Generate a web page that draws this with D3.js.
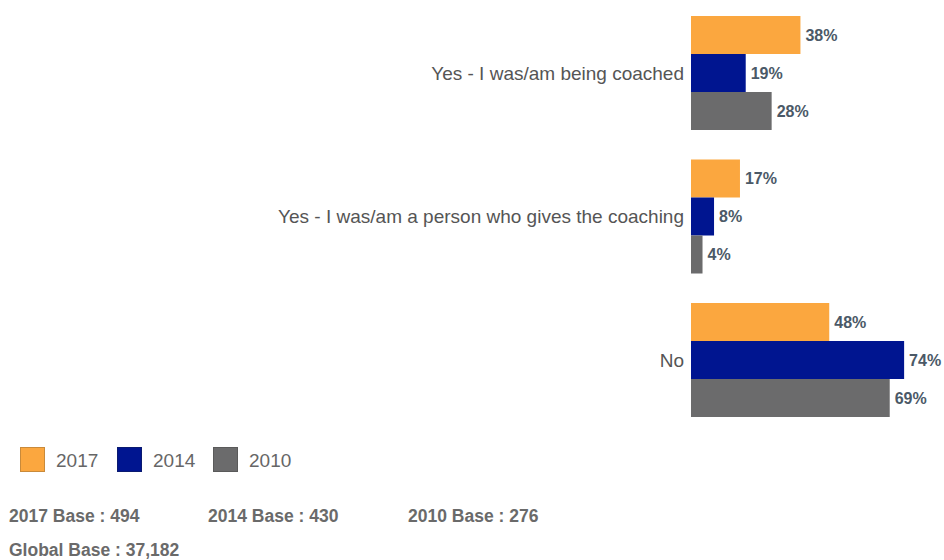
<!DOCTYPE html>
<html>
<head>
<meta charset="utf-8">
<script src="https://cdn.jsdelivr.net/npm/d3@7"></script>
<style>
  body { margin: 0; background: #fff; }
  svg { display: block; font-family: "Liberation Sans", Arial, sans-serif; }
</style>
</head>
<body>
<div id="chart"></div>
<script>
const WIDTH = 944, HEIGHT = 560

// data
var categories = ["Yes - I was/am being coached", "Yes - I was/am a person who gives the coaching", "No"]
var years = ["2017", "2014", "2010"]
var values2017 = [38, 17, 48]
var values2014 = [19, 8, 74]
var values2010 = [28, 4, 69]
var bases = ["2017 Base : 494", "2014 Base : 430", "2010 Base : 276"]
var globalBase = "Global Base : 37,182"

var colors = {"2017": "#FBA73F", "2014": "#001590", "2010": "#6B6B6C"}
var borders = {"2017": "#C98A3A", "2014": "#0A1A70", "2010": "#5A5A5A"}
var seriesValues = {"2017": values2017, "2014": values2014, "2010": values2010}

var svg = d3.select("#chart").append("svg")
  .attr("width", WIDTH)
  .attr("height", HEIGHT)

var x0 = 691
var x = d3.scaleLinear().domain([0, 100]).range([x0, x0 + 288])

var y = d3.scaleBand()
  .domain(categories)
  .range([16, 417])
  .paddingInner(0.2056)
  .paddingOuter(0)

var yInner = d3.scaleBand()
  .domain(years)
  .range([0, y.bandwidth()])

// rows of bars, one group per category
var groups = svg.selectAll("g.cat")
  .data(categories)
  .enter().append("g")
  .attr("class", "cat")
  .attr("transform", d => "translate(0," + y(d) + ")")

groups.each(function(cat, ci) {
  var g = d3.select(this)
  var rows = years.map(yr => ({year: yr, value: seriesValues[yr][ci]}))

  g.selectAll("rect")
    .data(rows)
    .enter().append("rect")
    .attr("x", x(0))
    .attr("y", d => yInner(d.year))
    .attr("width", d => x(d.value) - x(0))
    .attr("height", yInner.bandwidth())
    .attr("fill", d => colors[d.year])

  g.selectAll("text.val")
    .data(rows)
    .enter().append("text")
    .attr("class", "val")
    .attr("x", d => x(d.value) + 5)
    .attr("y", d => yInner(d.year) + yInner.bandwidth() / 2)
    .attr("dy", "0.36em")
    .attr("font-size", 16)
    .attr("font-weight", "bold")
    .attr("fill", "#4B5967")
    .text(d => d.value + "%")

  // category label
  g.append("text")
    .attr("x", x0 - 7)
    .attr("y", y.bandwidth() / 2)
    .attr("dy", "0.36em")
    .attr("text-anchor", "end")
    .attr("font-size", 19)
    .attr("fill", "#555")
    .text(cat)
})

// legend
var legX = [20, 117, 213]
var legend = svg.selectAll("g.leg")
  .data(years)
  .enter().append("g")
  .attr("class", "leg")
  .attr("transform", (d, i) => "translate(" + legX[i] + ",447)")

legend.append("rect")
  .attr("x", 0.5)
  .attr("y", 0.5)
  .attr("width", 24)
  .attr("height", 24)
  .attr("fill", d => colors[d])
  .attr("stroke", d => borders[d])
  .attr("stroke-width", 1)

legend.append("text")
  .attr("x", 36)
  .attr("y", 13)
  .attr("dy", "0.36em")
  .attr("font-size", 19)
  .attr("fill", "#666")
  .text(d => d)

// base notes
var baseX = [9, 208, 408]
svg.selectAll("text.base")
  .data(bases)
  .enter().append("text")
  .attr("class", "base")
  .attr("x", (d, i) => baseX[i])
  .attr("y", 522)
  .attr("font-size", 17.5)
  .attr("font-weight", "bold")
  .attr("fill", "#6A6A6A")
  .text(d => d)

svg.append("text")
  .attr("x", 9)
  .attr("y", 556)
  .attr("font-size", 17.5)
  .attr("font-weight", "bold")
  .attr("fill", "#6A6A6A")
  .text(globalBase)
</script>
</body>
</html>
